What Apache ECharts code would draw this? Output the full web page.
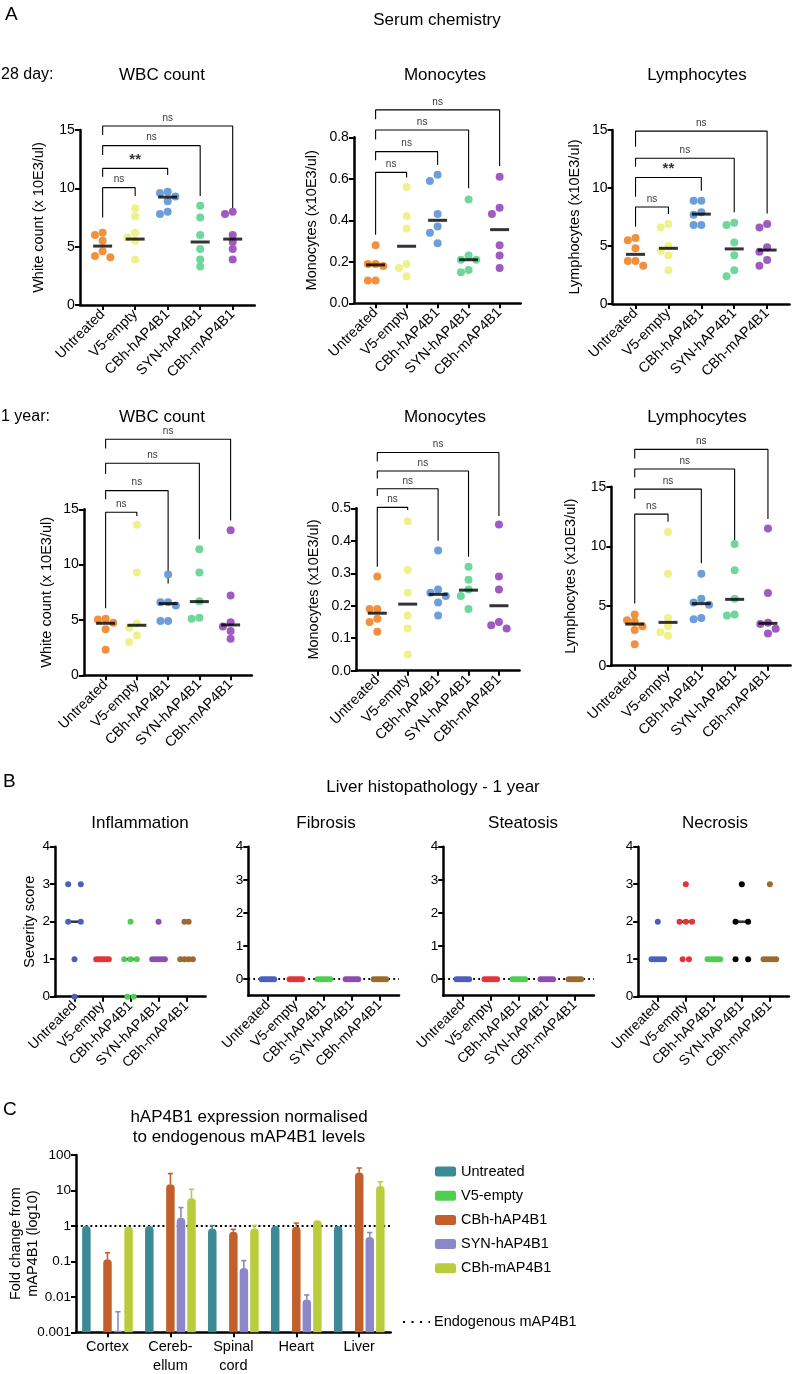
<!DOCTYPE html>
<html>
<head>
<meta charset="utf-8">
<script src="https://cdn.jsdelivr.net/npm/echarts@6/dist/echarts.min.js"></script>
<style>
html, body { margin: 0; padding: 0; background: #fff; }
#main { width: 792px; height: 1374px; }
</style>
</head>
<body>
<div id="main"></div>
<script>
// ---- data ----
var groups = ['Untreated', 'V5-empty', 'CBh-hAP4B1', 'SYN-hAP4B1', 'CBh-mAP4B1'];
var dotColors = ['#F2913D', '#EEF28A', '#6C9FDA', '#6ED79C', '#A05BC2'];

// A, 28 day
var wbc28 = [[6.0, 6.2, 5.5, 4.6, 4.1, 4.2], [8.3, 7.6, 6.2, 5.5, 5.8, 3.9], [9.7, 9.6, 9.3, 8.9, 7.8, 8.0], [8.5, 7.5, 6.0, 4.8, 3.9, 3.3], [7.8, 8.0, 6.0, 5.4, 4.8, 3.9]];
var wbc28Med = [5.05, 5.65, 9.25, 5.4, 5.65];
var wbc28BrTop = [10.06, 11.71, 13.66, 15.34];
var wbc28BrLeft = [7.5, 11.0, 12.86, 14.57];
var wbc28BrRight = [9.34, 11.14, 9.34, 8.09];
var wbc28BrLabel = ['ns', '**', 'ns', 'ns'];

var mono28 = [[0.28, 0.19, 0.19, 0.18, 0.11, 0.11], [0.56, 0.42, 0.36, 0.19, 0.17, 0.13], [0.59, 0.62, 0.43, 0.37, 0.34, 0.29], [0.50, 0.23, 0.21, 0.21, 0.15, 0.16], [0.61, 0.46, 0.43, 0.28, 0.23, 0.17]];
var mono28Med = [0.185, 0.275, 0.40, 0.21, 0.355];
var mono28BrTop = [0.631, 0.731, 0.835, 0.932];
var mono28BrLeft = [0.33, 0.69, 0.79, 0.887];
var mono28BrRight = [0.606, 0.667, 0.554, 0.662];
var mono28BrLabel = ['ns', 'ns', 'ns', 'ns'];

var lym28 = [[5.5, 5.7, 4.8, 3.3, 3.7, 3.7], [6.9, 6.6, 4.6, 5.0, 4.2, 2.9], [8.9, 8.9, 7.7, 7.9, 6.8, 6.8], [6.8, 7.0, 5.3, 4.2, 2.4, 2.9], [6.6, 6.9, 4.5, 4.9, 3.3, 3.8]];
var lym28Med = [4.28, 4.8, 7.75, 4.75, 4.65];
var lym28BrTop = [8.36, 10.9, 12.56, 14.9];
var lym28BrLeft = [6.67, 9.25, 11.84, 13.56];
var lym28BrRight = [7.76, 9.77, 7.9, 7.8];
var lym28BrLabel = ['ns', '**', 'ns', 'ns'];

// A, 1 year
var wbc1y = [[5.05, 5.1, 4.75, 4.15, 2.3], [13.6, 9.3, 4.3, 4.7, 3.0, 3.6], [9.1, 6.6, 6.6, 6.3, 4.9, 4.9], [11.4, 9.3, 6.7, 5.1, 5.2], [13.1, 7.2, 4.4, 4.8, 3.3, 4.0]];
var wbc1yMed = [4.7, 4.52, 6.48, 6.66, 4.55];
var wbc1yBrTop = [14.73, 16.69, 19.16, 21.33];
var wbc1yBrLeft = [6.05, 15.9, 18.2, 20.5];
var wbc1yBrRight = [14.4, 8.3, 12.29, 13.98];
var wbc1yBrLabel = ['ns', 'ns', 'ns', 'ns'];

var mono1y = [[0.29, 0.19, 0.19, 0.16, 0.15, 0.12], [0.46, 0.31, 0.24, 0.17, 0.13, 0.05], [0.37, 0.24, 0.25, 0.23, 0.21, 0.17], [0.32, 0.28, 0.25, 0.23, 0.19], [0.45, 0.29, 0.25, 0.15, 0.13, 0.14]];
var mono1yMed = [0.177, 0.205, 0.235, 0.248, 0.20];
var mono1yBrTop = [0.503, 0.56, 0.615, 0.672];
var mono1yBrLeft = [0.32, 0.538, 0.592, 0.644];
var mono1yBrRight = [0.495, 0.40, 0.351, 0.476];
var mono1yBrLabel = ['ns', 'ns', 'ns', 'ns'];

var lym1y = [[4.3, 3.7, 3.8, 3.0, 3.3, 1.8], [11.2, 7.7, 4.0, 3.3, 2.5, 2.8], [7.7, 5.6, 5.3, 5.1, 3.9, 4.0], [10.2, 8.0, 5.6, 4.2, 4.3], [11.5, 6.1, 3.6, 3.5, 2.7, 3.1]];
var lym1yMed = [3.49, 3.63, 5.2, 5.56, 3.55];
var lym1yBrTop = [12.7, 14.8, 16.48, 18.13];
var lym1yBrLeft = [5.22, 14.0, 15.8, 17.37];
var lym1yBrRight = [12.07, 8.58, 10.3, 12.29];
var lym1yBrLabel = ['ns', 'ns', 'ns', 'ns'];

// B, liver histopathology scores
var histoColors = ['#4A5FBE', '#E5333A', '#4FCF52', '#8E4BB0', '#9A6A2E'];
var necrosisColors = ['#4A5FBE', '#E5333A', '#4FCF52', '#000000', '#9A6A2E'];
var inflammation = [[3, 3, 2, 2, 1, 0], [1, 1, 1, 1, 1, 1], [2, 1, 1, 1, 0, 0], [2, 1, 1, 1, 1, 1], [2, 2, 1, 1, 1, 1]];
var inflammationMed = [2, 1, 1, 1, 1];
var fibrosis = [[0, 0, 0, 0, 0, 0], [0, 0, 0, 0, 0, 0], [0, 0, 0, 0, 0, 0], [0, 0, 0, 0, 0, 0], [0, 0, 0, 0, 0, 0]];
var fibrosisMed = [0, 0, 0, 0, 0];
var steatosis = [[0, 0, 0, 0, 0, 0], [0, 0, 0, 0, 0, 0], [0, 0, 0, 0, 0, 0], [0, 0, 0, 0, 0, 0], [0, 0, 0, 0, 0, 0]];
var steatosisMed = [0, 0, 0, 0, 0];
var necrosis = [[2, 1, 1, 1, 1, 1], [3, 2, 2, 2, 1, 1], [1, 1, 1, 1, 1, 1], [3, 2, 2, 1, 1], [3, 1, 1, 1, 1, 1]];
var necrosisMed = [1, 2, 1, 2, 1];

// C, expression (mean and upper SD end)
var tissues = ['Cortex', 'Cereb-\nellum', 'Spinal\ncord', 'Heart', 'Liver'];
var barColors = ['#3D8A97', '#4FCF52', '#C2602C', '#8B87C8', '#B9CC3C'];
var exprUntreated = [1.0, 1.0, 0.84, 1.0, 1.0];
var errUntreated = [null, null, 1.02, null, null];
var exprV5 = [null, null, null, null, null];
var errV5 = [null, null, null, null, null];
var exprCBhH = [0.115, 15, 0.68, 0.95, 32];
var errCBhH = [0.175, 30, 0.8, 1.2, 43];
var exprSYN = [0.0011, 1.7, 0.065, 0.0084, 0.49];
var errSYN = [0.0038, 3.3, 0.105, 0.0113, 0.65];
var exprCBhM = [0.97, 6.0, 0.84, 1.44, 13.4];
var errCBhM = [null, 10.8, 1.03, null, 17.5];
var exprLevels = [exprUntreated, exprV5, exprCBhH, exprSYN, exprCBhM];
var errLevels = [errUntreated, errV5, errCBhH, errSYN, errCBhM];

// ---- drawing ----
var FONT = 'Liberation Sans, Arial, Helvetica, sans-serif';
var XMIN = -0.7, XMAX = 4.68;
var grids = [], xAxes = [], yAxes = [], series = [], graphics = [];

function addGrid(box) {
  grids.push({ left: box.left, top: box.top, width: box.width, height: box.height, containLabel: false, outerBoundsMode: 'none' });
  return grids.length - 1;
}

// spread points of a group sideways so they do not overlap (dot plot layout)
function swarmOffsets(vals, pxY) {
  var order = vals.map(function (v, i) { return i; }).sort(function (a, b) { return vals[b] - vals[a]; });
  var placed = [], offs = [];
  var step = 7.7, minD = 6.8, cands = [0, -1, 1, -2, 2];
  order.forEach(function (i) {
    var y = vals[i] * pxY;
    for (var c = 0; c < cands.length; c++) {
      var x = cands[c] * step;
      var ok = placed.every(function (p) { return Math.hypot(p[0] - x, p[1] - y) >= minD; });
      if (ok || c === cands.length - 1) { offs[i] = x; placed.push([x, y]); break; }
    }
  });
  return offs;
}

// equal scores sit in a row; spacing set by the fullest row of the group
function rowOffsets(vals) {
  var rows = {};
  vals.forEach(function (v, i) { (rows[v] = rows[v] || []).push(i); });
  var m = 1;
  Object.keys(rows).forEach(function (k) { m = Math.max(m, rows[k].length); });
  var step = m > 1 ? 12.6 / (m - 1) : 0;
  var offs = [];
  Object.keys(rows).forEach(function (k) {
    var idx = rows[k], n = idx.length;
    idx.forEach(function (pi, j) { offs[pi] = (j - (n - 1) / 2) * step; });
  });
  return offs;
}

function dotPanel(cfg) {
  var gi = addGrid(cfg.box);
  var catPx = cfg.box.width / (XMAX - XMIN);
  var pxY = cfg.box.height / (cfg.ymax - cfg.ymin);
  xAxes.push({
    gridIndex: gi, type: 'value', min: XMIN, max: XMAX,
    axisLine: { show: true, onZero: false, lineStyle: { color: '#000', width: 2.5 } },
    axisTick: { show: true, customValues: [0, 1, 2, 3, 4], length: 5, lineStyle: { color: '#000', width: 2 } },
    axisLabel: {
      customValues: [0, 1, 2, 3, 4], rotate: 45, margin: 7, fontSize: cfg.xFont, color: '#000', fontFamily: FONT,
      formatter: function (v) { return groups[Math.round(v)]; }
    },
    splitLine: { show: false }
  });
  var yTicks = [];
  for (var t = cfg.tick0; t <= cfg.ymax + 1e-9; t += cfg.yint) yTicks.push(+t.toFixed(3));
  yAxes.push({
    gridIndex: gi, type: 'value', min: cfg.ymin, max: cfg.ymax,
    axisLine: { show: true, onZero: false, lineStyle: { color: '#000', width: 2.5 } },
    axisTick: { show: true, customValues: yTicks, length: 5, lineStyle: { color: '#000', width: 2 } },
    axisLabel: {
      customValues: yTicks, margin: 5, fontSize: cfg.yFont, color: '#000', fontFamily: FONT,
      formatter: function (v) { return v.toFixed(cfg.dec); }
    },
    splitLine: { show: false },
    name: cfg.yName || '', nameLocation: 'middle', nameGap: cfg.nameGap || 30,
    nameTextStyle: { fontSize: 14.5, color: '#000', fontFamily: FONT }
  });

  cfg.vals.forEach(function (vals, i) {
    var offs = cfg.rows ? rowOffsets(vals) : swarmOffsets(vals, pxY);
    series.push({
      type: 'scatter', xAxisIndex: gi, yAxisIndex: gi, symbolSize: cfg.dot, z: 3, clip: false,
      itemStyle: { color: cfg.colors[i], opacity: 1 },
      data: vals.map(function (v, k) { return [i + offs[k] / catPx, v]; })
    });
  });
  var med = {
    type: 'scatter', xAxisIndex: gi, yAxisIndex: gi, symbol: 'rect', symbolSize: cfg.medSize,
    z: cfg.rows ? 2 : 4, itemStyle: { color: '#000' },
    data: cfg.med.map(function (m, i) { return [i, m]; })
  };
  if (cfg.zeroLine) {
    med.markLine = {
      silent: true, symbol: ['none', 'none'], z: 1, label: { show: false },
      lineStyle: { color: '#000', width: 1.8, type: [1.8, 3.2] },
      data: [{ yAxis: 0 }]
    };
  }
  series.push(med);

  if (cfg.br) {
    var top = cfg.br[0], left = cfg.br[1], right = cfg.br[2], lab = cfg.br[3];
    for (var k = 0; k < top.length; k++) {
      series.push({
        type: 'line', xAxisIndex: gi, yAxisIndex: gi, symbol: 'none', clip: false, silent: true, z: 1,
        lineStyle: { color: '#000', width: 1.1 },
        data: [[0, left[k]], [0, top[k]], [k + 1, top[k]], [k + 1, right[k]]]
      });
    }
    series.push({
      type: 'scatter', xAxisIndex: gi, yAxisIndex: gi, symbolSize: 0, clip: false, silent: true,
      data: top.map(function (tv, k) {
        return {
          value: [(k + 1) / 2, tv], name: lab[k],
          label: lab[k] === '**' ? { fontSize: 15, fontWeight: 'bold', distance: 1 } : { fontSize: 10 }
        };
      }),
      label: {
        show: true, position: 'top', distance: 3, color: '#000', fontFamily: FONT,
        formatter: function (p) { return p.name; }
      }
    });
  }
  return gi;
}

function text(x, y, str, size, align) {
  graphics.push({
    type: 'text', x: x, y: y, silent: true,
    style: { text: str, fontSize: size, fontFamily: FONT, fill: '#000', align: align || 'center', verticalAlign: 'middle' }
  });
}

var aCommon = { ymin: 0, tick0: 0, xFont: 14.3, yFont: 14, dot: 8, medSize: [19, 3], colors: dotColors };
function A(cfg) { var o = {}; for (var k in aCommon) o[k] = aCommon[k]; for (var k2 in cfg) o[k2] = cfg[k2]; return dotPanel(o); }

A({ box: { left: 79.9, top: 130, width: 174.9, height: 175 }, ymax: 15, yint: 5, dec: 0, yName: 'White count (x 10E3/ul)', nameGap: 33,
  vals: wbc28, med: wbc28Med, br: [wbc28BrTop, wbc28BrLeft, wbc28BrRight, wbc28BrLabel] });
A({ box: { left: 353.9, top: 137.3, width: 166.8, height: 166 }, ymax: 0.8, yint: 0.2, dec: 1, yName: 'Monocytes (x10E3/ul)', nameGap: 34,
  vals: mono28, med: mono28Med, br: [mono28BrTop, mono28BrLeft, mono28BrRight, mono28BrLabel] });
A({ box: { left: 612.5, top: 130, width: 177, height: 174 }, ymax: 15, yint: 5, dec: 0, yName: 'Lymphocytes (x10E3/ul)', nameGap: 30,
  vals: lym28, med: lym28Med, br: [lym28BrTop, lym28BrLeft, lym28BrRight, lym28BrLabel] });
A({ box: { left: 83.75, top: 509.3, width: 168.1, height: 166 }, ymax: 15, yint: 5, dec: 0, yName: 'White count (x 10E3/ul)', nameGap: 29,
  vals: wbc1y, med: wbc1yMed, br: [wbc1yBrTop, wbc1yBrLeft, wbc1yBrRight, wbc1yBrLabel] });
A({ box: { left: 356, top: 508.3, width: 163.6, height: 162.4 }, ymax: 0.5, yint: 0.1, dec: 1, yName: 'Monocytes (x10E3/ul)', nameGap: 35,
  vals: mono1y, med: mono1yMed, br: [mono1yBrTop, mono1yBrLeft, mono1yBrRight, mono1yBrLabel] });
A({ box: { left: 611.4, top: 486.7, width: 179.2, height: 179 }, ymax: 15, yint: 5, dec: 0, yName: 'Lymphocytes (x10E3/ul)', nameGap: 33,
  vals: lym1y, med: lym1yMed, br: [lym1yBrTop, lym1yBrLeft, lym1yBrRight, lym1yBrLabel] });

var bCommon = { tick0: 0, yint: 1, ymax: 4, dec: 0, xFont: 14, yFont: 13.5, dot: 6, medSize: [14, 2.5], rows: true };
function B(cfg) { var o = {}; for (var k in bCommon) o[k] = bCommon[k]; for (var k2 in cfg) o[k2] = cfg[k2]; return dotPanel(o); }
B({ box: { left: 54.9, top: 846.7, width: 150.7, height: 150 }, ymin: 0, yName: 'Severity score', nameGap: 17,
  vals: inflammation, med: inflammationMed, colors: histoColors });
B({ box: { left: 248.3, top: 846.7, width: 150.7, height: 149 }, ymin: -0.5, zeroLine: true,
  vals: fibrosis, med: fibrosisMed, colors: histoColors });
B({ box: { left: 443.2, top: 846.7, width: 150.7, height: 149 }, ymin: -0.5, zeroLine: true,
  vals: steatosis, med: steatosisMed, colors: histoColors });
B({ box: { left: 638.2, top: 846.7, width: 150.7, height: 150 }, ymin: 0,
  vals: necrosis, med: necrosisMed, colors: necrosisColors });

// C: bar chart on log axis
var gC = addGrid({ left: 76, top: 1155, width: 314.7, height: 177.3 });
xAxes.push({
  gridIndex: gC, type: 'category', data: tissues,
  axisLine: { show: true, lineStyle: { color: '#000', width: 2.5 } },
  axisTick: { show: true, alignWithLabel: true, length: 5, lineStyle: { color: '#000', width: 2 } },
  axisLabel: { fontSize: 14.5, lineHeight: 19, color: '#000', margin: 5, fontFamily: FONT, interval: 0 }
});
yAxes.push({
  gridIndex: gC, type: 'log', logBase: 10, min: 0.001, max: 100, startValue: 0.001,
  axisLine: { show: true, onZero: false, lineStyle: { color: '#000', width: 2.5 } },
  axisTick: { show: true, length: 5, lineStyle: { color: '#000', width: 2 } },
  axisLabel: {
    fontSize: 13.5, color: '#000', margin: 5, fontFamily: FONT,
    formatter: function (v) { return v >= 1 ? String(Math.round(v)) : String(+v.toPrecision(1)); }
  },
  splitLine: { show: false },
  name: 'Fold change from\nmAP4B1 (log10)', nameLocation: 'middle', nameGap: 35, nameMoveOverlap: false,
  nameTextStyle: { fontSize: 14.5, lineHeight: 17, color: '#000', fontFamily: FONT }
});
var BAR_W = 8.5, BAR_GAP = 0.24;
groups.forEach(function (g, j) {
  var s = {
    name: g, type: 'bar', xAxisIndex: gC, yAxisIndex: gC, barWidth: BAR_W, barGap: (BAR_GAP * 100) + '%', z: 3,
    itemStyle: { color: barColors[j], borderRadius: [4, 4, 0, 0] },
    data: exprLevels[j].map(function (v) { return v == null ? '-' : v; })
  };
  if (j === 0) {
    s.markLine = {
      silent: true, symbol: ['none', 'none'], z: 1, label: { show: false },
      lineStyle: { color: '#000', width: 2, type: [2, 2.8] },
      data: [{ yAxis: 1 }]
    };
  }
  series.push(s);
  var errData = [];
  errLevels[j].forEach(function (e, ci) { if (e != null) errData.push([ci, exprLevels[j][ci], e]); });
  series.push({
    name: 'err-' + j, type: 'custom', xAxisIndex: gC, yAxisIndex: gC, z: 2, silent: true,
    data: errData,
    renderItem: function (params, api) {
      var p0 = api.coord([api.value(0), api.value(1)]);
      var p1 = api.coord([api.value(0), api.value(2)]);
      var x = p0[0] + (j - 2) * BAR_W * (1 + BAR_GAP);
      var st = { stroke: barColors[j], lineWidth: 1.6 };
      return {
        type: 'group', children: [
          { type: 'line', shape: { x1: x, y1: p0[1], x2: x, y2: p1[1] }, style: st },
          { type: 'line', shape: { x1: x - 2.6, y1: p1[1], x2: x + 2.6, y2: p1[1] }, style: st }
        ]
      };
    }
  });
});

// ---- texts ----
text(5, 15, 'A', 19, 'left');
text(437, 20, 'Serum chemistry', 17);
text(1, 75, '28 day:', 16, 'left');
text(162, 75, 'WBC count', 17);
text(445, 75, 'Monocytes', 17);
text(697, 75, 'Lymphocytes', 17);
text(1, 417, '1 year:', 16, 'left');
text(162, 417, 'WBC count', 17);
text(445, 417, 'Monocytes', 17);
text(697, 417, 'Lymphocytes', 17);

text(3, 782, 'B', 19, 'left');
text(433, 787, 'Liver histopathology - 1 year', 17);
text(140, 823, 'Inflammation', 17);
text(326, 823, 'Fibrosis', 17);
text(523, 823, 'Steatosis', 17);
text(715, 823, 'Necrosis', 17);

text(3, 1110, 'C', 19, 'left');
text(249, 1117, 'hAP4B1 expression normalised', 17);
text(249, 1137, 'to endogenous mAP4B1 levels', 17);

graphics.push({
  type: 'line', silent: true, shape: { x1: 403, y1: 1322, x2: 430, y2: 1322 },
  style: { stroke: '#000', lineWidth: 2, lineDash: [2, 6.5] }
});
text(434, 1322, 'Endogenous mAP4B1', 14.5, 'left');

var chart = echarts.init(document.getElementById('main'));
chart.setOption({
  animation: false,
  backgroundColor: '#fff',
  textStyle: { fontFamily: FONT },
  grid: grids,
  xAxis: xAxes,
  yAxis: yAxes,
  legend: {
    data: groups, orient: 'vertical', left: 430, top: 1159, itemWidth: 21, itemHeight: 10, itemGap: 9.2,
    icon: 'roundRect', selectedMode: false,
    textStyle: { fontSize: 14.5, color: '#000', fontFamily: FONT }
  },
  series: series,
  graphic: graphics
});
</script>
</body>
</html>
